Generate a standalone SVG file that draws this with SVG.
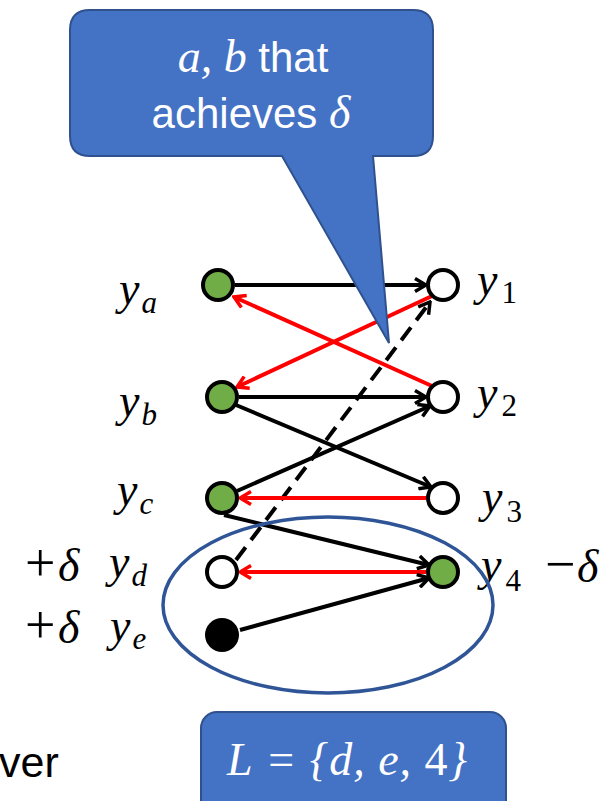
<svg xmlns="http://www.w3.org/2000/svg" width="609" height="801" viewBox="0 0 609 801">
<style>
.n{stroke:#000;stroke-width:4}
.g{fill:#70AD47}
.w{fill:#fff}
.k{fill:#000}
.e{stroke:#000;stroke-width:4;fill:none}
.r{stroke:#FF0000;stroke-width:4;fill:none}
.m{font-family:"Liberation Serif",serif;font-style:italic;font-size:46px;fill:#000}
.s{font-size:31px}
.up{font-style:normal}
.op{font-style:normal;font-size:54px}
.sans{font-family:"Liberation Sans",sans-serif;font-style:normal;font-size:42px}
.box{fill:#4472C4;stroke:#2F528F;stroke-width:2}
</style>
<defs>
<marker id="ak" viewBox="0 0 14 16" refX="12" refY="8" markerWidth="14" markerHeight="16" markerUnits="userSpaceOnUse" orient="auto">
<path d="M1,1.5 L12,8 L1,14.5" fill="none" stroke="#000" stroke-width="3.5"/>
</marker>
<marker id="ar" viewBox="0 0 14 16" refX="12" refY="8" markerWidth="14" markerHeight="16" markerUnits="userSpaceOnUse" orient="auto">
<path d="M1,1.5 L12,8 L1,14.5" fill="none" stroke="#FF0000" stroke-width="3.5"/>
</marker>
</defs>
<g id="connectors">
<line class="e" x1="235" y1="285" x2="426" y2="285" marker-end="url(#ak)"/>
<line class="r" x1="432" y1="386" x2="234" y2="297" marker-end="url(#ar)"/>
<line class="r" x1="432" y1="296" x2="237" y2="387" marker-end="url(#ar)"/>
<line class="e" x1="236" y1="560" x2="430" y2="302" stroke-dasharray="16 9" marker-end="url(#ak)"/>
<line class="e" x1="239" y1="397" x2="426" y2="397" marker-end="url(#ak)"/>
<line class="e" x1="236" y1="405" x2="431" y2="487" marker-end="url(#ak)"/>
<line class="e" x1="237" y1="491" x2="430" y2="406" marker-end="url(#ak)"/>
<line class="r" x1="426" y1="498" x2="240" y2="498" marker-end="url(#ar)"/>
<line class="e" x1="224" y1="515" x2="429" y2="565" marker-end="url(#ak)"/>
<line class="r" x1="426" y1="572" x2="240" y2="572" marker-end="url(#ar)"/>
<line class="e" x1="240" y1="630" x2="429" y2="578" marker-end="url(#ak)"/>
</g>
<g id="node-ya"><circle class="n g" cx="218" cy="285" r="15"/><text class="m" x="119" y="304">y<tspan class="s" dx="2" dy="9">a</tspan></text></g>
<g id="node-yb"><circle class="n g" cx="222" cy="397" r="15"/><text class="m" x="119" y="416">y<tspan class="s" dx="2" dy="9">b</tspan></text></g>
<g id="node-yc"><circle class="n g" cx="222" cy="498" r="15"/><text class="m" x="117" y="505">y<tspan class="s" dx="2" dy="9">c</tspan></text></g>
<g id="node-yd"><circle class="n w" cx="222" cy="572" r="15"/><text class="m" x="25" y="581"><tspan class="op">+</tspan><tspan x="58">δ</tspan><tspan x="109" dy="-4">y</tspan><tspan class="s" dx="2" dy="9">d</tspan></text></g>
<g id="node-ye"><circle class="k" cx="222" cy="635" r="17"/><text class="m" x="25" y="643"><tspan class="op">+</tspan><tspan x="58">δ</tspan><tspan x="110" dy="-2">y</tspan><tspan class="s" dx="2" dy="8">e</tspan></text></g>
<g id="node-y1"><circle class="n w" cx="443" cy="285" r="15"/><text class="m" x="477" y="295">y<tspan class="s up" dx="4" dy="8">1</tspan></text></g>
<g id="node-y2"><circle class="n w" cx="443" cy="397" r="15"/><text class="m" x="477" y="408">y<tspan class="s up" dx="4" dy="8">2</tspan></text></g>
<g id="node-y3"><circle class="n w" cx="443" cy="498" r="15"/><text class="m" x="482" y="512">y<tspan class="s up" dx="4" dy="10">3</tspan></text></g>
<g id="node-y4"><circle class="n g" cx="443" cy="572" r="15"/><text class="m" x="481" y="580">y<tspan class="s up" dx="4" dy="11">4</tspan><tspan class="op" x="545" dy="-9">−</tspan><tspan x="577">δ</tspan></text></g>
<g id="group-L"><ellipse cx="328" cy="605" rx="165" ry="88" fill="none" stroke="#2F5597" stroke-width="3.5"/></g>
<g id="callout">
<path class="box" d="M90,10 H413 Q433,10 433,30 V136 Q433,156 413,156 H373 L389,343 L282,156 H90 Q70,156 70,136 V30 Q70,10 90,10 Z"/>
<text class="m" x="253" y="72" text-anchor="middle" style="fill:#fff">a, b<tspan class="sans"> that</tspan></text>
<text class="m" x="251" y="128" text-anchor="middle" style="fill:#fff"><tspan class="sans">achieves </tspan>δ</text>
</g>
<g id="label-L">
<rect class="box" x="201" y="712" width="305" height="105" rx="16"/>
<text class="m" x="227" y="775" textLength="240" lengthAdjust="spacing" style="fill:#fff">L = {d, e, <tspan class="up">4</tspan>}</text>
</g>
<text x="-1" y="777" font-family="Liberation Sans, sans-serif" font-size="43" fill="#000">ver</text>
</svg>
